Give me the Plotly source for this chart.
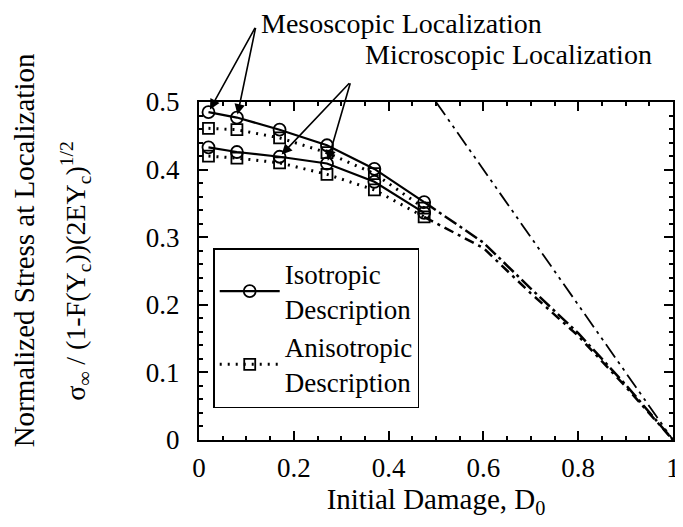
import plotly.graph_objects as go

# Initial damage D0 where localization stress was computed
d0 = [0.02, 0.08, 0.17, 0.27, 0.37, 0.475]
meso_iso = [0.485, 0.477, 0.459, 0.436, 0.401, 0.352]
meso_aniso = [0.461, 0.459, 0.447, 0.425, 0.394, 0.343]
micro_iso = [0.433, 0.426, 0.419, 0.409, 0.382, 0.336]
micro_aniso = [0.420, 0.417, 0.410, 0.393, 0.370, 0.330]

# continuation of the curves down to D0 = 1
ext_d0 = [0.6, 0.7, 0.8, 0.9, 1.0]
ext_upper = [0.292, 0.224, 0.158, 0.082, 0.0]
ext_lower = [0.284, 0.217, 0.154, 0.079, 0.0]

# reference line (1 - D0)
ref_d0 = [0.5, 1.0]
ref_val = [0.5, 0.0]

x_ticks = [0, 0.2, 0.4, 0.6, 0.8, 1]
x_labels = ["0", "0.2", "0.4", "0.6", "0.8", "1"]
y_ticks = [0, 0.1, 0.2, 0.3, 0.4, 0.5]
y_labels = ["0", "0.1", "0.2", "0.3", "0.4", "0.5"]

FONT = "Liberation Serif, Times New Roman, serif"
DOT = "2px,6px"

fig = go.Figure()

# continuation lines (drawn first, underneath)
fig.add_trace(go.Scatter(
    x=[d0[-1]] + ext_d0, y=[meso_iso[-1]] + ext_upper,
    mode="lines", line=dict(color="black", width=2.5, dash="14px,4px,3px,4px"),
    showlegend=False, hoverinfo="skip",
))
fig.add_trace(go.Scatter(
    x=[d0[-1]] + ext_d0, y=[micro_aniso[-1]] + ext_lower,
    mode="lines", line=dict(color="black", width=2.5, dash="10px,5px,3px,5px"),
    showlegend=False, hoverinfo="skip",
))
fig.add_trace(go.Scatter(
    x=ref_d0, y=ref_val,
    mode="lines", line=dict(color="black", width=1.8, dash="16px,5px,3px,5px,3px,5px"),
    showlegend=False, hoverinfo="skip",
))

circle = dict(symbol="circle-open", size=12, color="black", line=dict(width=1.8))
square = dict(symbol="square-open", size=11, color="black", line=dict(width=1.8))

fig.add_trace(go.Scatter(
    x=d0, y=meso_iso, name="Isotropic<br>Description",
    mode="lines+markers", line=dict(color="black", width=2.2),
    marker=circle, legendrank=1,
))
fig.add_trace(go.Scatter(
    x=d0, y=micro_iso, mode="lines+markers",
    line=dict(color="black", width=2.2), marker=circle, showlegend=False,
))
fig.add_trace(go.Scatter(
    x=d0, y=meso_aniso, name="Anisotropic<br>Description",
    mode="lines+markers", line=dict(color="black", width=3, dash=DOT),
    marker=square, legendrank=2,
))
fig.add_trace(go.Scatter(
    x=d0, y=micro_aniso, mode="lines+markers",
    line=dict(color="black", width=3, dash=DOT), marker=square, showlegend=False,
))

# labels and arrows
label = dict(xref="paper", yref="paper", xanchor="center", yanchor="middle",
             showarrow=False, font=dict(size=28), borderpad=0, borderwidth=0)
fig.add_annotation(text="Mesoscopic Localization", x=0.428, y=1.232, **label)
fig.add_annotation(text="Microscopic Localization", x=0.652, y=1.14, **label)

arrow = dict(showarrow=True, arrowhead=2, arrowsize=1.3, arrowwidth=1.6,
             arrowcolor="black", axref="x", ayref="y", text="", standoff=3)
for i in (0, 1):
    fig.add_annotation(x=d0[i], y=meso_iso[i], ax=0.12, ay=0.612, **arrow)
for i in (2, 3):
    fig.add_annotation(x=d0[i], y=micro_iso[i], ax=0.32, ay=0.53, **arrow)

# y-axis title, two lines set apart like the original
fig.add_annotation(text="Normalized Stress at Localization",
                   xref="paper", yref="paper", x=-0.37, y=0.56,
                   xanchor="center", yanchor="middle", textangle=-90,
                   showarrow=False, font=dict(size=29))

axis_common = dict(
    showline=True, linecolor="black", linewidth=2, mirror="ticks",
    ticks="inside", ticklen=9, tickwidth=2, tickcolor="black",
    showgrid=False, zeroline=False,
    tickfont=dict(size=27, color="black"),
)

fig.update_layout(
    width=683, height=527,
    margin=dict(l=191, r=11, t=94, b=95),
    paper_bgcolor="white", plot_bgcolor="white",
    font=dict(family=FONT, color="black"),
    xaxis=dict(
        range=[0, 1], tickvals=x_ticks, ticktext=x_labels,
        minor=dict(dtick=0.05, ticks="inside", ticklen=4, tickcolor="black", tickwidth=1.5),
        title=dict(text="Initial Damage, D<sub>0</sub>", font=dict(size=29), standoff=5),
        ticklabelstandoff=3,
        **axis_common,
    ),
    yaxis=dict(
        range=[0, 0.5], tickvals=y_ticks, ticktext=y_labels,
        minor=dict(dtick=0.02, ticks="inside", ticklen=4, tickcolor="black", tickwidth=1.5),
        title=dict(
            text="σ<sub>∞</sub> / (1-F(Y<sub>c</sub>))(2EY<sub>c</sub>)<sup>1/2</sup>",
            font=dict(size=28), standoff=52,
        ),
        ticklabelstandoff=12,
        **axis_common,
    ),
    legend=dict(
        x=0.03, y=0.568, xanchor="left", yanchor="top",
        bgcolor="white", bordercolor="black", borderwidth=1.5,
        font=dict(size=27), itemwidth=60, tracegroupgap=0,
    ),
)

fig.write_html("out.html")
